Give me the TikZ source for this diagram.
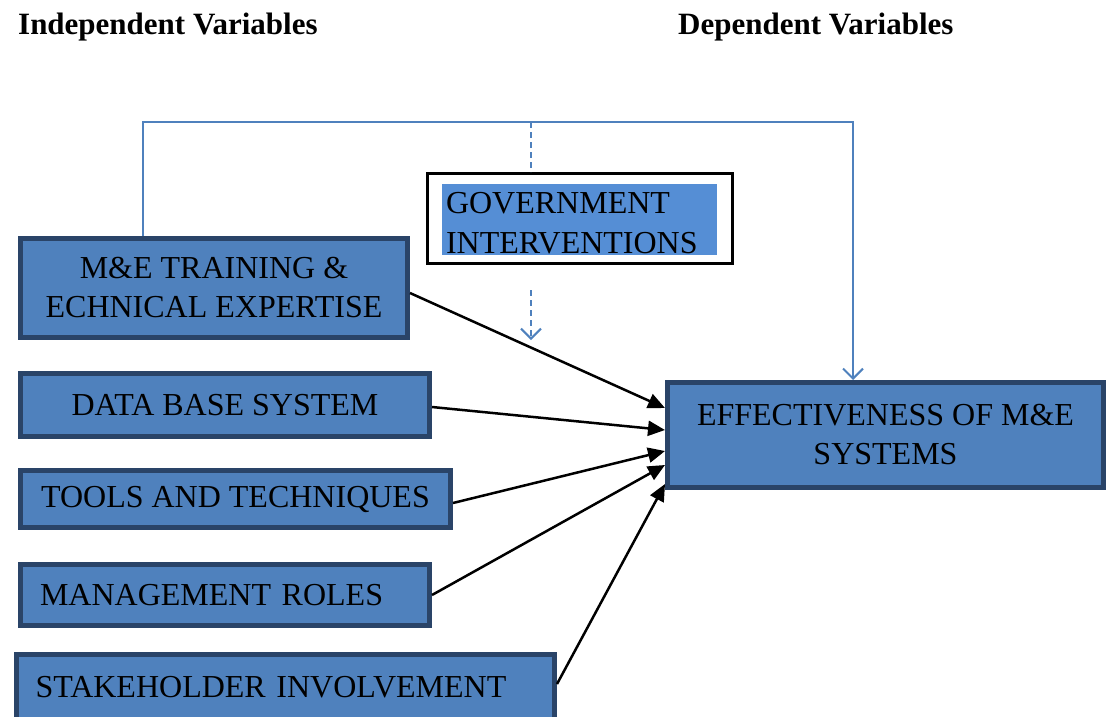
\documentclass[tikz,border=0pt]{standalone}
\usepackage{fontspec}
\setmainfont{Liberation Serif}
\usetikzlibrary{arrows.meta}
\definecolor{boxblue}{HTML}{4F81BD}
\definecolor{boxline}{HTML}{2A4468}
\definecolor{govblue}{HTML}{558ED5}

\begin{document}
\begin{tikzpicture}[x=1pt, y=-1pt,
        box/.style = {draw=boxline, fill=boxblue, line width=5pt, inner sep=0pt,
                      font=\fontsize{32}{39}\selectfont},
        head/.style = {font=\bfseries\fontsize{31}{36}\selectfont, anchor=west, inner sep=0pt},
        feed/.style = {draw=boxblue, line width=2pt},
        link/.style = {line width=2.5pt, -{Triangle[length=17pt,width=15pt]}}]
        \useasboundingbox (0,0) rectangle (1114,716);
        \node[head] (indep) at (18,27)  {Independent Variables};
        \node[head] (dep)   at (678,27) {Dependent Variables};

        \node[box, minimum width=387, minimum height=99, align=center] (train) at (214,288)
            {M\&E TRAINING \&\\ECHNICAL EXPERTISE};
        \node[box, minimum width=409, minimum height=63] (data) at (225,405) {DATA BASE SYSTEM};
        \node[box, minimum width=430, minimum height=57] (tools) at (235.5,499) {TOOLS AND TECHNIQUES};
        \node[box, minimum height=61, text width=370, inner xsep=19.5, align=left] (roles) at (225,595)
            {MANAGEMENT ROLES};
        \node[box, minimum height=65, text width=500, inner xsep=19, align=left] (stake) at (285.5,687)
            {STAKEHOLDER INVOLVEMENT};
        \node[box, minimum width=436, minimum height=105, align=center] (effect) at (885.5,435)
            {EFFECTIVENESS OF M\&E\\SYSTEMS};

        \node[draw, line width=3pt, fill=white, minimum width=305, minimum height=90] (govframe) at (580,218.5) {};
        \node[fill=govblue, text width=267, inner xsep=4, inner ysep=0, minimum height=71, align=left,
              text height=29pt, font=\fontsize{32}{40}\selectfont] (gov) at (579.5,219.5) {GOVERNMENT\\INTERVENTIONS};

        % moderating lines
        \coordinate (split) at (531,122);
        \coordinate (mod) at (531,290);
        \draw[feed, -{Straight Barb[length=10pt,width=20pt]}]
            ([xshift=-71pt]train.north) |- (split) -| ([xshift=-32.5pt]effect.north);
        \draw[feed, dash pattern=on 6pt off 4pt] (split) -- (split |- govframe.north);
        \draw[feed, dash pattern=on 6pt off 4pt, -{Straight Barb[length=10pt,width=20pt]}] (mod) -- ++(0,50);

        \draw[link] ([yshift=-5pt]train.east) -- ([yshift=27pt]effect.west);
        \draw[link] ([yshift=-2pt]data.east)  -- ([yshift=5pt]effect.west);
        \draw[link] ([yshift=-4pt]tools.east) -- ([yshift=-16pt]effect.west);
        \draw[link] (roles.east)              -- ([yshift=-30pt]effect.west);
        \draw[link] ([yshift=3pt]stake.east)  -- ([yshift=-49pt]effect.west);
    \end{tikzpicture}
\end{document}
